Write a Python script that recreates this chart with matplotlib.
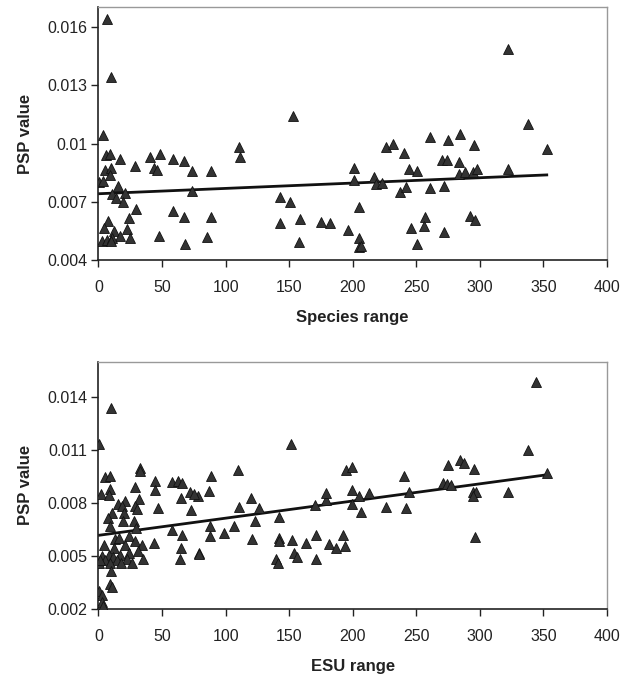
import numpy as np
import matplotlib
matplotlib.use('Agg')
import matplotlib.pyplot as plt

plt.rcParams['font.family'] = ['Liberation Sans', 'DejaVu Sans']

# top panel: PSP value vs species range
species_x = [6.6, 9.7, 3.4, 5.8, 9.2, 17.1, 29, 40.3, 48.7, 58.4, 67.1, 73.7, 88.2, 44, 46,
             5.3, 10, 9.2, 0.8, 3.2, 15, 10.5, 13.7, 20.5, 19.2, 29.7, 73.2, 7.6, 4.5, 24.2,
             22.4, 12.6, 17.1, 24.5, 2.6, 7.1, 10.5, 9.7, 47.9, 58.4, 67.1, 67.9, 85.5, 88.2,
             110.5, 111.3, 152.7, 142.6, 150.5, 142.9, 158.7, 157.9, 175, 182, 196, 201,
             201.3, 204.7, 204.7, 204.7, 206.6, 217, 218.4, 223, 226.3, 231.6, 240.3, 236.8,
             242, 244, 250.8, 245.5, 257, 256, 250.5, 260.5, 260.5, 271.9, 271.9, 270.5,
             274.2, 275.3, 283.4, 284.7, 295.3, 283.7, 288.2, 294.7, 297.4, 292, 296, 321.9,
             321.9, 337.7, 352.6]
species_psp = [0.01638, 0.01342, 0.01045, 0.00942, 0.00947, 0.00921, 0.00886, 0.00933, 0.00947,
               0.00919, 0.00912, 0.00859, 0.00859, 0.00873, 0.00864, 0.00864, 0.00876, 0.00838,
               0.00804, 0.00807, 0.00783, 0.00739, 0.00718, 0.00744, 0.00699, 0.00666, 0.00758,
               0.00603, 0.00567, 0.00618, 0.00562, 0.00551, 0.00524, 0.00515, 0.00498, 0.00503,
               0.00512, 0.00500, 0.00527, 0.00654, 0.00620, 0.00486, 0.00520, 0.00620, 0.00984,
               0.00929, 0.01143, 0.00723, 0.00701, 0.00593, 0.00610, 0.00495, 0.00598, 0.00593,
               0.00555, 0.00873, 0.00813, 0.00672, 0.00515, 0.00469, 0.00472, 0.00830, 0.00790,
               0.00799, 0.00984, 0.00998, 0.00950, 0.00749, 0.00778, 0.00868, 0.00861, 0.00567,
               0.00620, 0.00575, 0.00486, 0.01033, 0.00770, 0.00783, 0.00543, 0.00916, 0.00916,
               0.01020, 0.00907, 0.01048, 0.00993, 0.00843, 0.00856, 0.00856, 0.00868, 0.00627,
               0.00606, 0.01486, 0.00868, 0.01101, 0.00971]

# bottom panel: PSP value vs ESU range
esu_x = [32.9, 32.4, 5.5, 8.9, 44.7, 44.2, 57.8, 62.2, 66.1, 28.5, 9.4, 2.4, 8.1, 72.1, 78.2,
         74.8, 65.1, 31.6, 15.2, 21.2, 18.6, 29, 30.3, 46.5, 19.9, 10.7, 7.6, 72.7, 19.1, 27.7,
         29.8, 9.4, 57.8, 66.1, 13.3, 23.8, 15.9, 29, 34.2, 43.4, 4.2, 21.2, 12, 30.8, 65.1,
         24.3, 17.3, 2.9, 8.1, 11.2, 5.5, 14.6, 22.5, 35, 64.3, 78.7, 0.8, 9.4, 18, 26.4, 1.6,
         9.9, 9.4, 10.7, 0.8, 2.9, 2.9, 3.4, 0.8, 9.7,
         88.4, 109.8, 87, 119.8, 110.6, 126.3, 123.4, 142, 87.6, 87.6, 98.8, 106.4, 121.1, 79,
         142, 142, 152.5, 162.9, 171.3, 179.1, 179.1, 170.5, 151.3, 181.2, 187, 192.2, 194.3,
         139.9, 141.2, 153.5, 156.4, 171.3, 194.8, 199.2, 199.5, 199.5, 205.3, 206.6,
         212.6, 226.3, 240.3, 244.2, 242.1, 271, 275, 274.2, 277.6, 284.2, 287.6, 295.3, 294.7,
         296.8, 294.2, 296.1, 321.9, 337.7, 344, 352.6]
esu_psp = [0.00997, 0.00983, 0.00945, 0.00951, 0.00926, 0.00875, 0.00920, 0.00926, 0.00913,
           0.00888, 0.00882, 0.00850, 0.00844, 0.00863, 0.00840, 0.00853, 0.00827, 0.00825,
           0.00796, 0.00811, 0.00783, 0.00783, 0.00768, 0.00770, 0.00741, 0.00745, 0.00716,
           0.00758, 0.00697, 0.00697, 0.00659, 0.00668, 0.00649, 0.00617, 0.00596, 0.00611,
           0.00601, 0.00588, 0.00563, 0.00576, 0.00563, 0.00563, 0.00544, 0.00531, 0.00544,
           0.00515, 0.00506, 0.00500, 0.00506, 0.00492, 0.00477, 0.00477, 0.00481, 0.00483,
           0.00483, 0.00515, 0.00458, 0.00458, 0.00458, 0.00458, 0.00477, 0.00414, 0.00343,
           0.00324, 0.00300, 0.00280, 0.00240, 0.00219, 0.01133, 0.01338,
           0.00955, 0.00989, 0.00869, 0.00831, 0.00777, 0.00773, 0.00697, 0.00722, 0.00668,
           0.00611, 0.00630, 0.00668, 0.00597, 0.00511, 0.00601, 0.00586, 0.00592, 0.00576,
           0.00620, 0.00817, 0.00859, 0.00789, 0.01133, 0.00569, 0.00544, 0.00620, 0.00559,
           0.00481, 0.00462, 0.00515, 0.00492, 0.00483, 0.00989, 0.01006, 0.00873, 0.00796,
           0.00840, 0.00750,
           0.00855, 0.00779, 0.00952, 0.00864, 0.00770, 0.00915, 0.01014, 0.00907, 0.00902,
           0.01046, 0.01029, 0.00992, 0.00864, 0.00864, 0.00840, 0.00606, 0.00860, 0.01100,
           0.01485, 0.00971]

panels = [
    (species_x, species_psp, 'Species range', (0.004, 0.017), [0.004, 0.007, 0.01, 0.013, 0.016],
     ['0.004', '0.007', '0.01', '0.013', '0.016']),
    (esu_x, esu_psp, 'ESU range', (0.002, 0.016), [0.002, 0.005, 0.008, 0.011, 0.014],
     ['0.002', '0.005', '0.008', '0.011', '0.014']),
]
x_ticks = [0, 50, 100, 150, 200, 250, 300, 350, 400]

fig = plt.figure(figsize=(6.31, 6.76), dpi=100)
rects = [[0.156, 0.615, 0.806, 0.374], [0.156, 0.099, 0.806, 0.366]]

for rect, (xs, ys, xlab, ylim, yt, ytl) in zip(rects, panels):
    ax = fig.add_axes(rect)
    xs = np.array(xs); ys = np.array(ys)
    ax.plot(xs, ys, linestyle='none', marker='^', ms=7.8, mfc='#333333', mec='#111111', mew=0.6,
            zorder=3)
    # linear trendline
    b, a = np.polyfit(xs, ys, 1)
    xl = np.array([xs.min(), xs.max()])
    ax.plot(xl, a + b * xl, color='#111111', lw=2, zorder=2)
    ax.set_xlim(0, 400); ax.set_ylim(*ylim)
    ax.set_xticks(x_ticks)
    ax.set_yticks(yt); ax.set_yticklabels(ytl)
    ax.tick_params(direction='out', length=5, width=1, labelsize=11.5, color='#222222',
                   labelcolor='#222222')
    ax.tick_params(axis='x', pad=9)
    ax.tick_params(axis='y', pad=3)
    for s in ['left', 'bottom']:
        ax.spines[s].set_color('#222222'); ax.spines[s].set_linewidth(1.2)
    for s in ['top', 'right']:
        ax.spines[s].set_color('#999999'); ax.spines[s].set_linewidth(1.0)
    ax.set_xlabel(xlab, fontsize=12, fontweight='bold', color='#222222', labelpad=11)
    ax.set_ylabel('PSP value', fontsize=12, fontweight='bold', color='#222222', labelpad=10)

fig.savefig('out.png', dpi=100)
